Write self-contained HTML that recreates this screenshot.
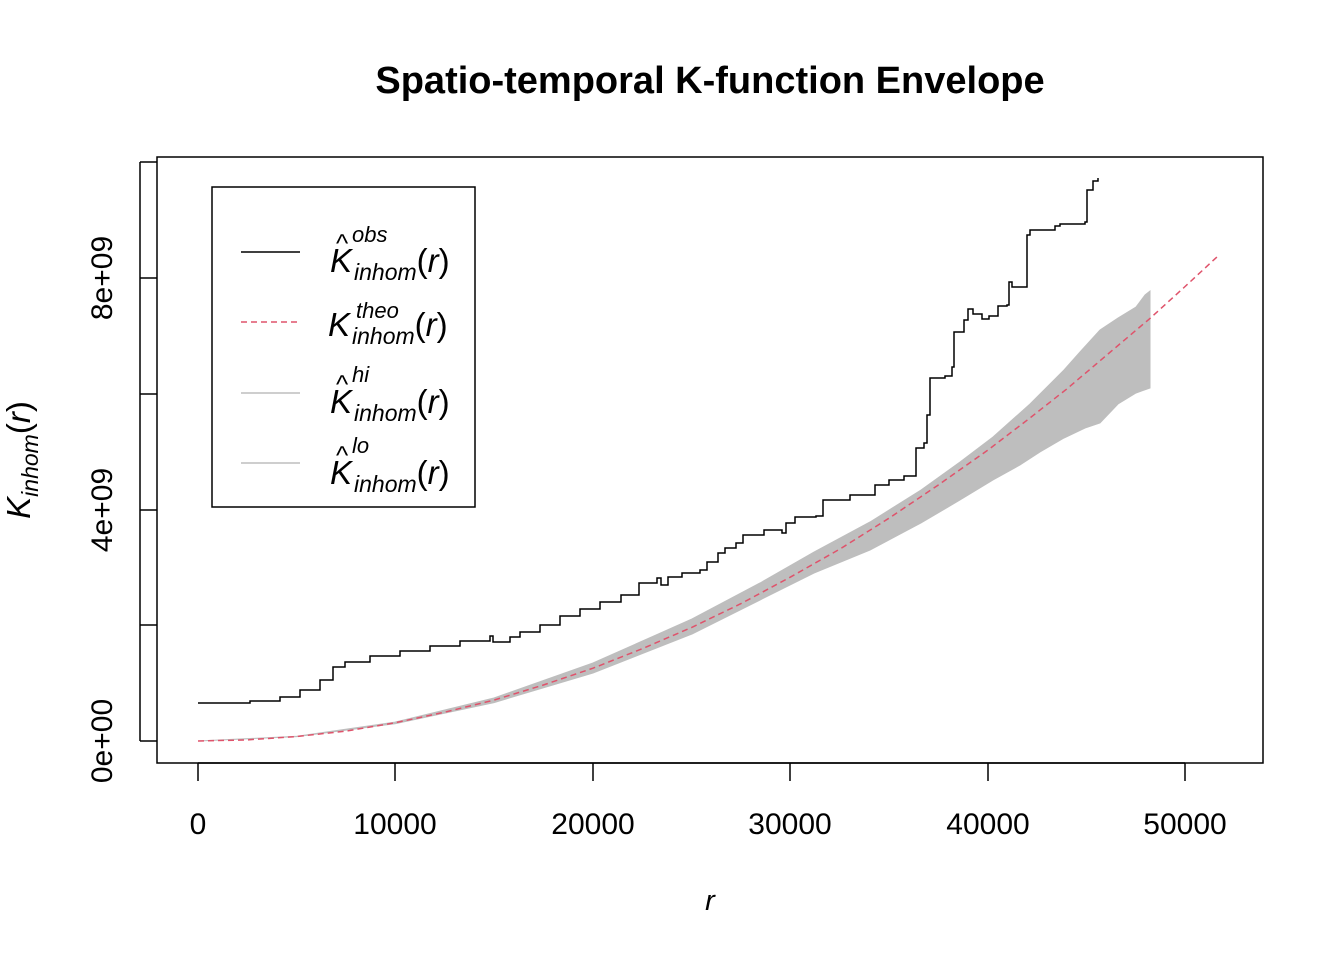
<!DOCTYPE html>
<html><head><meta charset="utf-8"><style>
body{margin:0;background:#fff}
svg{display:block}
text{font-family:"Liberation Sans",sans-serif;fill:#000}
</style></head><body>
<svg width="1344" height="960" viewBox="0 0 1344 960" xmlns="http://www.w3.org/2000/svg">
<rect width="1344" height="960" fill="#fff"/>
<text x="710" y="93" font-size="38" font-weight="bold" text-anchor="middle">Spatio-temporal K-function Envelope</text>
<polygon fill="#bebebe" stroke="#bebebe" stroke-width="1" points="198,741 297,736.3 395,722.1 494,698 593,663 692,619 760,583 814,552 870,522 921,490 960,462 993,437 1030,404 1064,370 1080,352 1100,330 1118,318 1136,307 1145,295 1150,291 1150,388 1136,393 1118,404 1100,423 1085,428 1064,438 1040,452 1020,465 993,480 960,500 921,523 870,550 814,573 760,600 692,634 593,673 494,702.6 395,723.7 297,736.6 198,741"/>
<path d="M198,741 L247,739.9 L297,736.5 L346,731.1 L395,722.8 L445,712.1 L494,700.1 L543,685.1 L593,668.2 L642,648.8 L692,627.3 L741,603.6 L790,577.3 L840,549 L889,518.2 L938,485.2 L988,450 L1028,419.5 L1067,388.8 L1108,354 L1150,318.4 L1184,287.5 L1218,256" fill="none" stroke="#df536b" stroke-width="1.5" stroke-dasharray="6,4"/>
<path d="M198,703 H250 V701 H280 V697 H300 V690 H320 V680 H333 V667 H345 V662 H370 V656 H400 V651 H430 V646 H460 V641 H490 V636 H493 V642 H510 V637 H520 V632 H540 V625 H560 V616 H580 V609 H600 V602 H621 V595 H639 V583 H657 V578 H661 V585 H668 V577 H682 V573 H700 V570 H707 V562 H718 V553 H725 V548 H736 V543 H743 V535 H764 V530 H782 V533 H786 V523 H795 V517 H816 V516 H823 V500 H850 V495 H875 V485 H889 V480 H904 V476 H912 V476 H916 V448 H924 V443 H927 V415 H930 V378 H945 V376 H952 V367 H954 V332 H964 V320 H968 V309 H973 V314 H982 V319 H989 V316 H998 V306 H1007 V305 H1009 V282 H1012 V287 H1027 V235 H1030 V230 H1055 V226 H1060 V224 H1085 V222 H1087 V190 H1093 V181 H1098 V178" fill="none" stroke="#000" stroke-width="1.5"/>
<rect x="157" y="157" width="1106" height="606" fill="none" stroke="#000" stroke-width="1.5"/>
<g stroke="#000" stroke-width="1.5">
<line x1="198" y1="763" x2="1185" y2="763"/>
<line x1="198" y1="763" x2="198" y2="781"/>
<line x1="395" y1="763" x2="395" y2="781"/>
<line x1="593" y1="763" x2="593" y2="781"/>
<line x1="790" y1="763" x2="790" y2="781"/>
<line x1="988" y1="763" x2="988" y2="781"/>
<line x1="1185" y1="763" x2="1185" y2="781"/>
<line x1="140" y1="162" x2="140" y2="741"/>
<line x1="140" y1="741" x2="157" y2="741"/>
<line x1="140" y1="625" x2="157" y2="625"/>
<line x1="140" y1="510" x2="157" y2="510"/>
<line x1="140" y1="394" x2="157" y2="394"/>
<line x1="140" y1="278" x2="157" y2="278"/>
<line x1="140" y1="162" x2="157" y2="162"/>
</g>
<g font-size="30" text-anchor="middle">
<text x="198" y="834">0</text>
<text x="395" y="834">10000</text>
<text x="593" y="834">20000</text>
<text x="790" y="834">30000</text>
<text x="988" y="834">40000</text>
<text x="1185" y="834">50000</text>
<text transform="translate(112,741) rotate(-90)">0e+00</text>
<text transform="translate(112,510) rotate(-90)">4e+09</text>
<text transform="translate(112,278) rotate(-90)">8e+09</text>
</g>
<text x="710" y="910" font-size="29" font-style="italic" text-anchor="middle">r</text>
<text transform="translate(30,460) rotate(-90)" font-size="33" text-anchor="middle"><tspan font-style="italic">K</tspan><tspan font-size="23" font-style="italic" dy="8">inhom</tspan><tspan dy="-8">(</tspan><tspan font-style="italic">r</tspan><tspan>)</tspan></text>
<rect x="212" y="187" width="263" height="320" fill="#fff" stroke="#000" stroke-width="1.5"/>
<line x1="241" y1="252" x2="300" y2="252" stroke="#000" stroke-width="1.5"/>
<line x1="241" y1="322" x2="300" y2="322" stroke="#df536b" stroke-width="1.5" stroke-dasharray="6,4"/>
<line x1="241" y1="393" x2="300" y2="393" stroke="#bebebe" stroke-width="1.5"/>
<line x1="241" y1="463" x2="300" y2="463" stroke="#bebebe" stroke-width="1.5"/>
<g font-size="33">
<text x="330" y="272"><tspan font-style="italic">K</tspan><tspan font-size="23" font-style="italic" dy="8" dx="2">inhom</tspan><tspan dy="-8">(</tspan><tspan font-style="italic">r</tspan>)</text>
<text x="336" y="252" font-size="26">^</text><text x="352" y="242" font-size="22" font-style="italic">obs</text>
<text x="328" y="336"><tspan font-style="italic">K</tspan><tspan font-size="23" font-style="italic" dy="8" dx="2">inhom</tspan><tspan dy="-8">(</tspan><tspan font-style="italic">r</tspan>)</text>
<text x="356" y="318" font-size="22" font-style="italic">theo</text>
<text x="330" y="413"><tspan font-style="italic">K</tspan><tspan font-size="23" font-style="italic" dy="8" dx="2">inhom</tspan><tspan dy="-8">(</tspan><tspan font-style="italic">r</tspan>)</text>
<text x="336" y="393" font-size="26">^</text><text x="352" y="382" font-size="22" font-style="italic">hi</text>
<text x="330" y="484"><tspan font-style="italic">K</tspan><tspan font-size="23" font-style="italic" dy="8" dx="2">inhom</tspan><tspan dy="-8">(</tspan><tspan font-style="italic">r</tspan>)</text>
<text x="336" y="464" font-size="26">^</text><text x="352" y="453" font-size="22" font-style="italic">lo</text>
</g>
</svg>
</body></html>
